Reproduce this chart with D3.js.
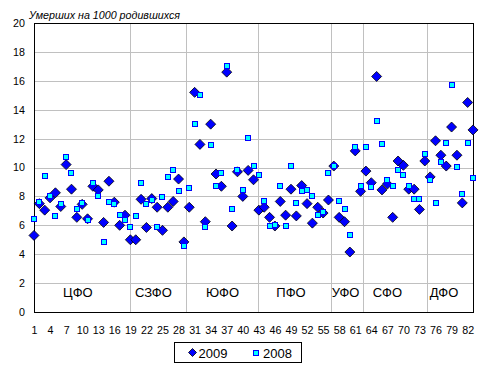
<!DOCTYPE html>
<html><head><meta charset="utf-8">
<script src="https://cdn.jsdelivr.net/npm/d3@7"></script>
<style>
html,body{margin:0;padding:0;background:#fff;}
svg{display:block;font-family:"Liberation Sans",Arial,sans-serif;}
</style></head>
<body>
<script>
// ---- data ----
const regions = d3.range(1, 84); // region numbers 1..83
const values2009 = [5.3,7.5,7.05,7.9,8.25,7.3,10.2,8.5,6.55,7.45,6.45,8.7,8.45,6.2,9.05,7.6,6.0,6.7,5.0,5.0,
  7.8,5.85,7.85,7.25,5.65,7.25,7.65,9.2,4.85,7.25,15.2,11.6,6.25,13.0,9.55,8.7,16.6,5.95,9.7,8.0,
  9.8,9.15,7.05,7.25,6.55,5.95,7.65,6.7,8.5,6.65,8.75,7.5,6.15,7.25,6.85,7.75,10.1,6.55,6.25,4.15,
  11.15,8.35,9.75,8.95,16.3,8.45,8.85,6.55,10.45,10.15,8.5,8.5,7.1,10.45,9.35,11.85,10.85,10.1,12.8,10.85,
  7.55,14.5,12.6];
const values2008 = [6.45,7.6,9.43,8.0,6.65,7.5,10.75,9.6,7.1,7.55,6.4,8.95,8.05,4.85,7.6,7.5,6.7,6.35,5.9,6.65,
  8.95,7.5,7.75,5.9,7.95,9.35,9.8,8.4,4.55,8.55,13.0,15.0,5.9,11.55,8.75,9.65,17.05,7.15,9.8,8.45,
  12.05,10.1,9.45,7.65,5.95,6.0,8.75,5.95,10.1,7.55,8.4,8.45,8.0,6.7,6.95,9.65,10.1,7.65,7.15,5.3,
  11.45,8.75,11.45,8.65,13.25,11.6,9.15,8.75,9.8,9.45,8.75,7.8,7.8,10.95,9.15,7.55,10.35,11.7,15.7,10.05,
  8.2,11.7,9.25];
const xTickLabels = [1,4,7,10,13,16,19,22,25,28,31,34,37,40,43,46,49,52,55,58,61,64,67,70,73,76,79,82];
const yTickLabels = [0,2,4,6,8,10,12,14,16,18,20];
const districtNames = ["ЦФО","СЗФО","ЮФО","ПФО","УФО","СФО","ДФО"];
const districtLabelPos = [9.2,23.3,36.2,49.0,59.2,67.0,77.6];
const districtBounds = [18.9,29.3,42.8,56.4,62.5,74.5];
const seriesNames = ["2009","2008"];
const title = "Умерших на 1000 родившихся";

// ---- layout ----
const W = 495, H = 375;
const L = 34, R = 473, T = 23, B = 312;
const svg = d3.select("body").append("svg").attr("width", W).attr("height", H);
svg.append("rect").attr("width", W).attr("height", H).attr("fill", "#fff");

const x = d3.scaleLinear().domain([1, 83]).range([L, R]);
const y = d3.scaleLinear().domain([0, 20]).range([B, T]);

// horizontal gridlines
svg.append("g").selectAll("line").data(yTickLabels.filter(v => v > 0 && v < 20)).join("line")
  .attr("x1", L).attr("x2", R).attr("y1", d => Math.round(y(d)) + 0.5).attr("y2", d => Math.round(y(d)) + 0.5)
  .attr("stroke", "#c0c0c0").attr("stroke-width", 1);
// vertical district gridlines
svg.append("g").selectAll("line").data(districtBounds).join("line")
  .attr("x1", d => Math.round(x(d)) + 0.5).attr("x2", d => Math.round(x(d)) + 0.5)
  .attr("y1", T).attr("y2", B)
  .attr("stroke", "#c0c0c0").attr("stroke-width", 1);

// plot border
svg.append("rect").attr("x", L + 0.5).attr("y", T + 0.5).attr("width", R - L).attr("height", B - T)
  .attr("fill", "none").attr("stroke", "#000").attr("stroke-width", 1);

// y axis labels
const yAxis = d3.axisLeft(y).tickValues(yTickLabels).tickSize(0).tickPadding(9).tickFormat(d3.format("d"));
const gy = svg.append("g").attr("transform", `translate(${L},0)`).call(yAxis);
gy.select(".domain").remove();
gy.selectAll("text").attr("font-size", "10.7px").attr("fill", "#000").attr("font-family", "Liberation Sans, Arial, sans-serif");

// x axis labels
const xAxis = d3.axisBottom(x).tickValues(xTickLabels).tickSize(0).tickPadding(14).tickFormat(d3.format("d"));
const gx = svg.append("g").attr("transform", `translate(0,${B})`).call(xAxis);
gx.select(".domain").remove();
gx.selectAll("text").attr("font-size", "10.7px").attr("fill", "#000").attr("font-family", "Liberation Sans, Arial, sans-serif");

// district labels
svg.append("g").selectAll("text").data(districtNames).join("text")
  .attr("x", (d, i) => x(districtLabelPos[i])).attr("y", y(1.05))
  .attr("text-anchor", "middle").attr("font-size", "13px").attr("fill", "#000")
  .text(d => d);

// title
svg.append("text").attr("x", 29).attr("y", 18.5).attr("font-size", "10.7px").attr("font-style", "italic")
  .attr("fill", "#000").text(title);

// markers
const diamond = r => `M0,${-r}L${r},0L0,${r}L${-r},0Z`;
const d2009 = regions.map((r, i) => ({ r, v: values2009[i] }));
const d2008 = regions.map((r, i) => ({ r, v: values2008[i] }));

svg.append("g").selectAll("path").data(d2009).join("path")
  .attr("d", diamond(5))
  .attr("transform", d => `translate(${x(d.r)},${y(d.v)})`)
  .attr("fill", "#0000ff").attr("stroke", "#000").attr("stroke-width", 0.8);

svg.append("g").selectAll("rect").data(d2008).join("rect")
  .attr("x", d => Math.round(x(d.r)) - 3 + 0.5).attr("y", d => Math.round(y(d.v)) - 3 + 0.5)
  .attr("width", 5).attr("height", 5)
  .attr("fill", "#00ffff").attr("stroke", "#0000ff").attr("stroke-width", 1);

// legend
const lg = svg.append("g");
lg.append("rect").attr("x", 174.5).attr("y", 342.5).attr("width", 127).attr("height", 20)
  .attr("fill", "#fff").attr("stroke", "#000").attr("stroke-width", 1);
lg.append("path").attr("d", diamond(4)).attr("transform", "translate(192.5,352.5)")
  .attr("fill", "#0000ff").attr("stroke", "#000").attr("stroke-width", 0.8);
lg.append("text").attr("x", 198.5).attr("y", 357.5).attr("font-size", "13px").attr("fill", "#000").text(seriesNames[0]);
lg.append("rect").attr("x", 253.5).attr("y", 350.5).attr("width", 5).attr("height", 5)
  .attr("fill", "#00ffff").attr("stroke", "#0000ff").attr("stroke-width", 1);
lg.append("text").attr("x", 263).attr("y", 357.5).attr("font-size", "13px").attr("fill", "#000").text(seriesNames[1]);
</script>
</body></html>
